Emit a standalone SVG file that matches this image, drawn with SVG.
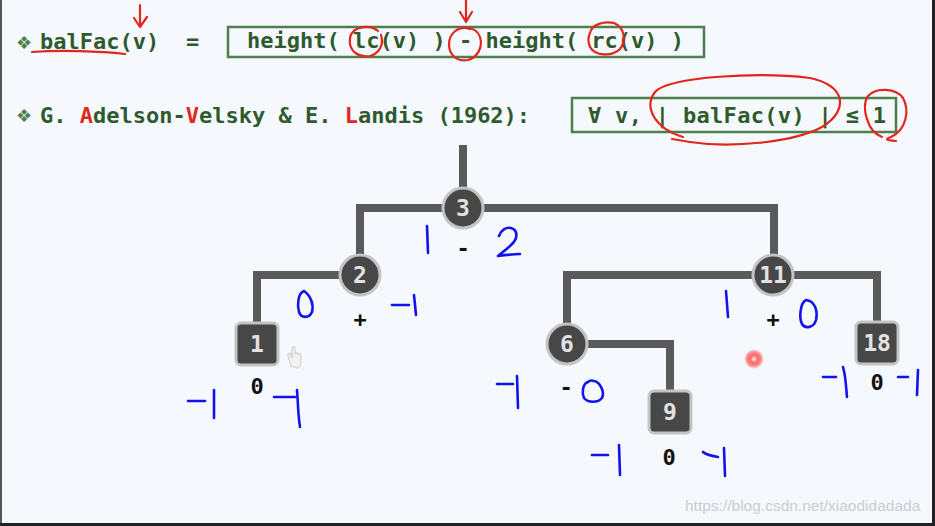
<svg xmlns="http://www.w3.org/2000/svg" width="935" height="526" viewBox="0 0 935 526">
<defs>
<style>
.mono{font-family:"DejaVu Sans Mono","Liberation Mono",monospace;font-weight:bold;font-size:22px}
.grn{fill:#2e5a2e}
.red{fill:#e0281e}
.box{fill:none;stroke:#4f7f4f;stroke-width:2.5}
.edge{fill:none;stroke:#5a5a5a;stroke-width:8;stroke-linejoin:miter}
.nc{fill:#474747;stroke:#c4c4c4;stroke-width:3}
.nt{font-family:"DejaVu Sans Mono","Liberation Mono",monospace;font-weight:bold;font-size:23px;fill:#e2e2e2;text-anchor:middle}
.bl{font-family:"DejaVu Sans Mono","Liberation Mono",monospace;font-weight:bold;font-size:22px;fill:#111;text-anchor:middle}
.ink{fill:none;stroke:#e3261c;stroke-width:2.2;stroke-linecap:round;stroke-linejoin:round}
.pen{fill:none;stroke:#1212ee;stroke-width:2.6;stroke-linecap:round;stroke-linejoin:round}
.bul{font-family:"DejaVu Sans",sans-serif;font-size:18px;fill:#4f7f4f}
</style>
<radialGradient id="laser">
<stop offset="0" stop-color="#ffffff"/>
<stop offset="0.35" stop-color="#ff6a6a"/>
<stop offset="0.7" stop-color="#ff4040" stop-opacity="0.6"/>
<stop offset="1" stop-color="#ff4040" stop-opacity="0"/>
</radialGradient>
</defs>
<rect x="0" y="0" width="935" height="526" fill="#f5f9fd"/>
<rect x="0" y="0" width="2" height="526" fill="#555"/>
<rect x="932" y="0" width="3" height="526" fill="#222"/>
<rect x="0" y="523" width="935" height="3" fill="#222"/>

<g id="heading1">
<text x="16" y="49" class="bul">❖</text>
<text x="40" y="49" class="mono grn">balFac(v)</text>
<text x="186" y="49" class="mono grn">=</text>
<rect x="228" y="27" width="476" height="30" class="box"/>
<text x="247" y="48" class="mono grn">height( lc(v) ) - height( rc(v) )</text>
</g>

<g id="heading2">
<text x="16" y="122" class="bul">❖</text>
<text x="40" y="123" class="mono grn">G. <tspan class="red">A</tspan>delson-<tspan class="red">V</tspan>elsky &amp; E. <tspan class="red">L</tspan>andis (1962):</text>
<rect x="572" y="98" width="324" height="34" class="box"/>
<text x="588" y="123" class="mono grn" textLength="298" lengthAdjust="spacing">∀ v, | balFac(v) | ≤ 1</text>
</g>

<g id="connectors">
<path class="edge" d="M463,145 V208"/>
<path class="edge" d="M463,208 H360 V275"/>
<path class="edge" d="M463,208 H774 V275"/>
<path class="edge" d="M360,275 H257 V344"/>
<path class="edge" d="M774,275 H567 V344"/>
<path class="edge" d="M774,275 H877 V343"/>
<path class="edge" d="M567,344 H670 V412"/>
</g>

<g id="node-3"><circle cx="463" cy="208" r="20" class="nc"/><text x="463" y="216" class="nt">3</text></g>
<g id="node-2"><circle cx="360" cy="275" r="20" class="nc"/><text x="360" y="283" class="nt">2</text></g>
<g id="node-11"><circle cx="773" cy="275" r="20" class="nc"/><text x="773" y="283" class="nt">11</text></g>
<g id="node-6"><circle cx="567" cy="344" r="20" class="nc"/><text x="567" y="352" class="nt">6</text></g>
<g id="node-1"><rect x="236" y="323" width="42" height="42" rx="5" class="nc"/><text x="257" y="352" class="nt">1</text></g>
<g id="node-18"><rect x="856" y="322" width="42" height="42" rx="5" class="nc"/><text x="877" y="351" class="nt">18</text></g>
<g id="node-9"><rect x="649" y="391" width="42" height="42" rx="5" class="nc"/><text x="670" y="420" class="nt">9</text></g>

<g id="balance-labels">
<text x="463" y="256" class="bl">-</text>
<text x="360" y="327" class="bl">+</text>
<text x="257" y="394" class="bl">0</text>
<text x="773" y="327" class="bl">+</text>
<text x="566" y="395" class="bl">-</text>
<text x="877" y="390" class="bl">0</text>
<text x="669" y="465" class="bl">0</text>
</g>

<g id="red-annotations">
<path class="ink" d="M140,5 V27 M134,18 L140,27 L147,17"/>
<path class="ink" d="M32,52 C60,50 100,51 125,54"/>
<path class="ink" d="M466,0 V22 M460,12 L466,22 L472,12"/>
<path class="ink" d="M378,31 C370,24 352,26 350,38 C348,52 360,58 370,56 C380,53 384,44 381,35"/>
<path class="ink" d="M470,29 C458,25 449,34 449,44 C449,56 458,62 468,60 C478,57 483,47 480,37 C478,31 474,28 466,28"/>
<path class="ink" d="M590,33 C592,24 604,21 614,23 C624,27 627,40 620,49 C612,57 595,56 590,47 C588,42 588,37 590,33"/>
<path class="ink" d="M683,137 C656,129 643,108 655,92 C670,76 760,72 810,78 C845,85 850,110 822,127 C792,143 730,148 690,142 L672,139"/>
<path class="ink" d="M882,137 C867,132 861,106 868,96 C876,87 896,88 903,98 C910,111 906,130 891,137 C886,139 884,140 896,141"/>
</g>

<g id="blue-annotations">
<path class="pen" d="M427,226 L428,253"/>
<path class="pen" d="M499,236 C501,230 506,227 511,228 C518,230 518,238 512,244 C506,250 500,254 498,256 C506,255 514,254 520,254"/>
<path class="pen" d="M304,291 C298,293 297,305 299,312 C301,318 309,319 312,312 C314,305 311,296 304,291"/>
<path class="pen" d="M392,305 H409 M414,295 L416,315"/>
<path class="pen" d="M188,401 H205 M214,390 L214,418"/>
<path class="pen" d="M274,397 H295 M297,390 C298,402 298,415 300,427"/>
<path class="pen" d="M726,291 L728,317"/>
<path class="pen" d="M806,300 C800,303 799,318 802,324 C805,329 814,328 816,320 C818,311 815,301 806,300"/>
<path class="pen" d="M497,384 H513 M517,376 L518,408"/>
<path class="pen" d="M588,382 C582,384 582,394 584,398 C588,403 598,403 602,398 C605,392 600,382 594,381 C591,380 589,381 588,382"/>
<path class="pen" d="M823,377 H836 M843,367 C846,377 846,388 847,397"/>
<path class="pen" d="M898,377 H908 M918,370 L917,395"/>
<path class="pen" d="M592,455 H608 M619,445 L620,475"/>
<path class="pen" d="M703,452 C706,455 712,456 718,457 M724,448 L725,476"/>
</g>

<g id="pointer">
<path d="M291,366 L288,356 C287,353 290,352 291,355 L292,358 L292,348 C292,346 295,346 295,348 L295,354 C296,352 298,352 298,355 C299,353 301,353 301,356 L301,362 C301,365 299,367 297,368 Z" fill="#f2f2f2" stroke="#d0d0d0" stroke-width="1.2"/>
<circle cx="754" cy="359" r="10" fill="url(#laser)"/>
</g>

<text x="685" y="511" font-family="Liberation Sans,Arial,sans-serif" font-size="15.5" fill="#c9cdd2">https://blog.csdn.net/xiaodidadada</text>
</svg>
